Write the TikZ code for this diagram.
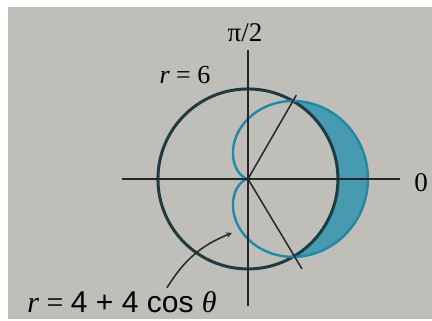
\documentclass[tikz,border=0pt]{standalone}
\usepackage{fontspec}
\setmainfont{Liberation Serif}
\newfontfamily\labsans{Liberation Sans}
\definecolor{paper}{RGB}{192,190,185}
\definecolor{ringc}{RGB}{32,58,64}
\definecolor{cardc}{RGB}{28,138,168}
\definecolor{shadec}{RGB}{72,154,176}
\begin{document}
\begin{tikzpicture}[>=stealth, x=15pt, y=15pt]
            \useasboundingbox (-16.53,-9.47) rectangle (12.27,11.93);
            \fill[paper] (-16,-9.33) rectangle (12.27,11.47);
            \fill[shadec] plot[samples=100,domain=-60:60,smooth,variable=\x] (\x:{4+4*cos(\x)}) arc[start angle=60, end angle=-60, radius=6] -- cycle;
            \draw[ringc, line width=3pt] (0,0) circle (6);
            \draw[cardc, line width=2.4pt, samples=200, domain=0:360, smooth, variable=\x] plot (\x:{4+4*cos(\x)});
            \coordinate (xl) at (-8.4,0);
            \coordinate (xr) at (10.13,0);
            \coordinate (yb) at (0,-8.5);
            \coordinate (yt) at (0,8.6);
            \coordinate (o) at (0,0);
            \coordinate (up) at (60:6.45);
            \coordinate (dn) at (-59:7);
            \draw[line width=1.5pt, black!85] (xl) -- (xr);
            \draw[line width=1.5pt, black!85] (yb) -- (yt);
            \draw[line width=1.5pt, black!85] (o) -- (up);
            \draw[line width=1.5pt, black!85] (o) -- (dn);
            \node (half) at (-0.2,9.75) {\fontsize{27}{29}\selectfont π/2};
            \node (zero) at (11.55,-0.25) {\fontsize{27}{29}\selectfont 0};
            \node (rsix) at (-4.2,6.9) {\fontsize{26}{28}\selectfont\textit{r} = 6};
            \node (rcard) at (-8.4,-8.2) {\fontsize{30}{32}\selectfont\textit{r} = \labsans 4 + 4 cos \rmfamily\textit{θ}};
            \coordinate (tip) at (-1.07,-3.6);
            \draw[->, line width=1.5pt, black!85] ([xshift=45pt,yshift=0pt]rcard.north) to[bend left=18] (tip);
\end{tikzpicture}
\end{document}
